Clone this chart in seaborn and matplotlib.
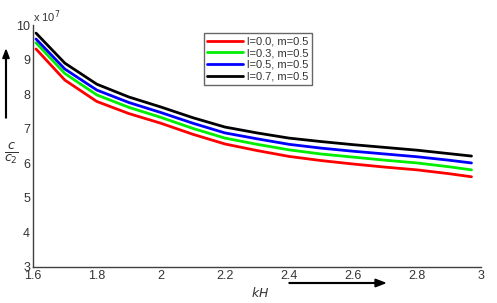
import numpy as np
import pandas as pd
import seaborn as sns
import matplotlib.pyplot as plt
from matplotlib.patches import FancyArrow

# kH values
kH = [1.61, 1.7, 1.8, 1.9, 2.0, 2.1, 2.2, 2.3, 2.4, 2.5, 2.6, 2.7, 2.8, 2.9, 2.97]

# c/c2 in units of 1e7
l00 = [9.31, 8.41, 7.79, 7.44, 7.16, 6.84, 6.56, 6.37, 6.20, 6.08, 5.98, 5.89, 5.81, 5.70, 5.61]
l03 = [9.49, 8.60, 7.98, 7.62, 7.33, 7.01, 6.73, 6.55, 6.39, 6.27, 6.18, 6.09, 6.01, 5.90, 5.81]
l05 = [9.60, 8.73, 8.12, 7.76, 7.47, 7.16, 6.88, 6.71, 6.55, 6.44, 6.35, 6.27, 6.19, 6.09, 6.01]
l07 = [9.77, 8.90, 8.29, 7.92, 7.63, 7.32, 7.05, 6.88, 6.73, 6.63, 6.54, 6.46, 6.38, 6.28, 6.21]

labels = ['l=0.0, m=0.5', 'l=0.3, m=0.5', 'l=0.5, m=0.5', 'l=0.7, m=0.5']
colors = ['#ff0000', '#00ee00', '#0000ff', '#000000']

data = pd.DataFrame({
    'kH': kH * 4,
    'c': l00 + l03 + l05 + l07,
    'case': [labels[0]] * len(kH) + [labels[1]] * len(kH) + [labels[2]] * len(kH) + [labels[3]] * len(kH),
})

sns.set_style('white')
plt.rcParams['font.family'] = ['Liberation Sans', 'DejaVu Sans']

fig = plt.figure(figsize=(4.97, 3.03), dpi=100)
ax = fig.add_axes([0.066, 0.119, 0.902, 0.798])

sns.lineplot(data=data, x='kH', y='c', hue='case', palette=colors, linewidth=2.0, ax=ax)

ax.set_xlim(1.6, 3.0)
ax.set_ylim(3, 10)
ax.set_xticks([1.6, 1.8, 2.0, 2.2, 2.4, 2.6, 2.8, 3.0])
ax.set_xticklabels(['1.6', '1.8', '2', '2.2', '2.4', '2.6', '2.8', '3'])
ax.set_yticks(range(3, 11))
ax.set_xlabel('')
ax.set_ylabel('')

grey = '#404040'
for side in ['top', 'right']:
    ax.spines[side].set_visible(False)
for side in ['left', 'bottom']:
    ax.spines[side].set_color(grey)
    ax.spines[side].set_linewidth(1.0)
ax.tick_params(axis='both', direction='in', length=4, width=0.8, color=grey,
               labelsize=9, labelcolor='#333333', pad=2)

ax.text(0.0, 1.0, r'x 10$^7$', transform=ax.transAxes, fontsize=8, color='#333333',
        ha='left', va='bottom')

leg = ax.legend(loc='upper left', bbox_to_anchor=(0.382, 0.967), borderaxespad=0,
                fontsize=8, frameon=True, fancybox=False, handlelength=3.2,
                handletextpad=0.4, labelspacing=0.15, borderpad=0.3)
leg.get_frame().set_edgecolor(grey)
leg.get_frame().set_linewidth(1.0)
for t in leg.get_texts():
    t.set_color('#333333')

# y label: arrow and c / c2 fraction
fig.patches.append(FancyArrow(
    6 / 497, 1 - 118 / 303, 0, (118 - 50) / 303, width=0.0015, head_width=0.013,
    head_length=0.028, length_includes_head=True, color='black', transform=fig.transFigure))
fig.text(11 / 497, 1 - 153 / 303, r'$\frac{c}{c_2}$', fontsize=13, ha='center', va='center',
         color='#333333')

# x label: kH and arrow
fig.text(260 / 497, 1 - 293 / 303, r'$kH$', fontsize=9, ha='center', va='center',
         color='#333333', family='DejaVu Serif')
fig.patches.append(FancyArrow(
    289 / 497, 1 - 283 / 303, (385 - 289) / 497, 0, width=0.0025, head_width=0.025,
    head_length=0.02, length_includes_head=True, color='black', transform=fig.transFigure))

fig.savefig('out.png', dpi=100)
